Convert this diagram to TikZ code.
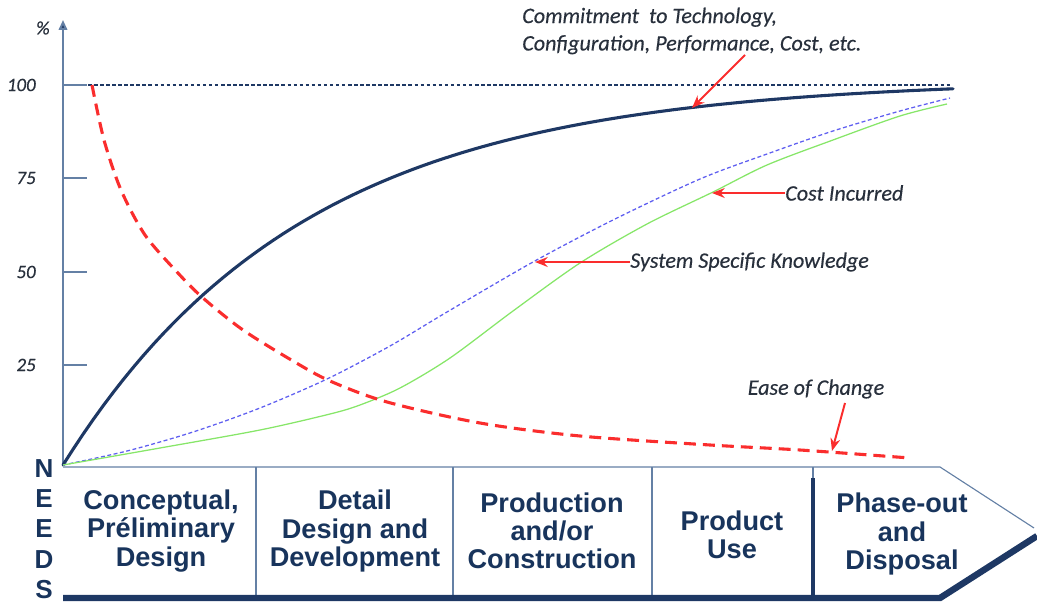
\documentclass[tikz,border=0pt]{standalone}
\usepackage{fontspec}
\setmainfont{Carlito}
\newfontfamily\labfont[FakeBold=0.35]{Carlito}
\newfontfamily\phasefont{Liberation Sans}
\usetikzlibrary{arrows.meta}
\definecolor{navy}{RGB}{30,56,100}
\definecolor{navytext}{RGB}{24,52,92}
\definecolor{axisblue}{RGB}{100,128,165}
\definecolor{notered}{RGB}{250,45,45}
\definecolor{knowblue}{RGB}{95,95,240}
\definecolor{costgreen}{RGB}{135,230,105}
\definecolor{labgray}{RGB}{40,48,60}
\begin{document}
\begin{tikzpicture}[x=0.025cm, y=-0.025cm,
    lbl/.style = {font=\labfont\fontsize{15.7}{19.5}\selectfont\itshape, text=labgray, inner sep=0pt},
    num/.style = {font=\labfont\fontsize{13.5}{16}\selectfont\itshape, text=labgray, inner sep=0pt, anchor=east},
    phase/.style = {font=\phasefont\bfseries\fontsize{19.3}{20}\selectfont, text=navytext, align=center, inner sep=0pt},
    needs/.style = {font=\phasefont\bfseries\fontsize{18.5}{21.6}\selectfont, text=navytext, align=center, inner sep=0pt},
    edge/.style = {draw=axisblue, line width=0.8pt},
    note/.style = {draw=notered, line width=1.4pt, -{Stealth[length=9pt,width=7pt]}}]
    \useasboundingbox (0,0) rectangle (1037,602);

    % axis and scale
    \coordinate (o) at (63,465);
    \coordinate (top) at (63,20);
    \draw[axisblue, line width=1.4pt, -{Triangle[length=7pt,width=6pt,fill=navy]}] (o) -- (top);
    \foreach \y/\v in {85/100, 178/75, 272/50, 365/25} {
        \draw[axisblue, line width=1.2pt] (63,\y) -- (87,\y);
        \node[num] (n\v) at (36,\y) {\v};
    }
    \node[num] (pct) at (50,28) {\%};
    \draw[navy, line width=0.8pt, dash pattern=on 2.5pt off 1.8pt] (88,85) -- (952,85);

    % curves
    \draw[navy, line width=2.2pt, line cap=round] plot[domain=63:953, samples=90]
        (\x, {465 - 376.2*(1-exp(-3.7*(\x-63)/890))/(1-exp(-3.7))});
    \draw[knowblue, line width=0.9pt, dash pattern=on 2.8pt off 1.8pt] plot[smooth] coordinates {(63,465) (127,451) (193,432) (260,408) (327,379) (390,346) (447,312) (533,262) (613,220) (700,179) (767,154) (833,131) (900,111) (950,98)};
    \draw[costgreen, line width=0.9pt] plot[smooth] coordinates {(63,465) (160,448) (260,430) (330,414) (360,405) (400,388) (450,358) (513,311) (580,263) (647,224) (713,192) (767,165) (833,140) (900,116) (947,104)};
    \draw[notered, line width=2.2pt, dash pattern=on 8.5pt off 5pt] plot[smooth] coordinates {(92,85) (104,140) (121,190) (145,235) (177,272) (203,298) (243,330) (293,361) (330,381) (387,402) (480,423) (580,436) (710,445) (800,450) (910,458)};

    % labels
    \node[lbl, align=left, anchor=west] (commit) at (522,31) {Commitment\ \ to Technology,\\Configuration, Performance, Cost, etc.};
    \node[lbl, anchor=west] (cost) at (785,193) {Cost Incurred};
    \node[lbl, anchor=west] (know) at (630,262) {System Specific Knowledge};
    \node[lbl] (ease) at (816,389) {Ease of Change};
    \coordinate (cT) at (745,55);
    \coordinate (cH) at (692,108);
    \coordinate (kH) at (535,262);
    \coordinate (gH) at (712,193);
    \coordinate (eT) at (845,403);
    \coordinate (eH) at (832,451);
    \draw[note] (cT) -- (cH);
    \draw[note] (cost.west) -- (gH);
    \draw[note] (know.west) -- (kH);
    \draw[note] (eT) -- (eH);

    % life-cycle band
    \draw[edge] (63,467) -- (940,467) -- (1034,528);
    \foreach \x in {256, 453, 652, 813}
        \draw[edge] (\x,467) -- (\x,597);
    \draw[navy, line width=2.2pt] (813,478) -- (813,597);
    \draw[navy, line width=4.6pt, line join=miter] (63,598) -- (940,598) -- (1037,536);

    \node[needs] (needs) at (44,529) {N\\E\\E\\D\\S};
    \node[phase] (p1) at (161,531) {Conceptual,\\Préliminary\\Design};
    \node[phase] (p2) at (355,531) {Detail\\Design and\\Development};
    \node[phase] (p3) at (552,531) {Production\\and/or\\Construction};
    \node[phase] (p4) at (732,535) {Product\\Use};
    \node[phase] (p5) at (902,534) {Phase-out\\and\\Disposal};
\end{tikzpicture}
\end{document}
